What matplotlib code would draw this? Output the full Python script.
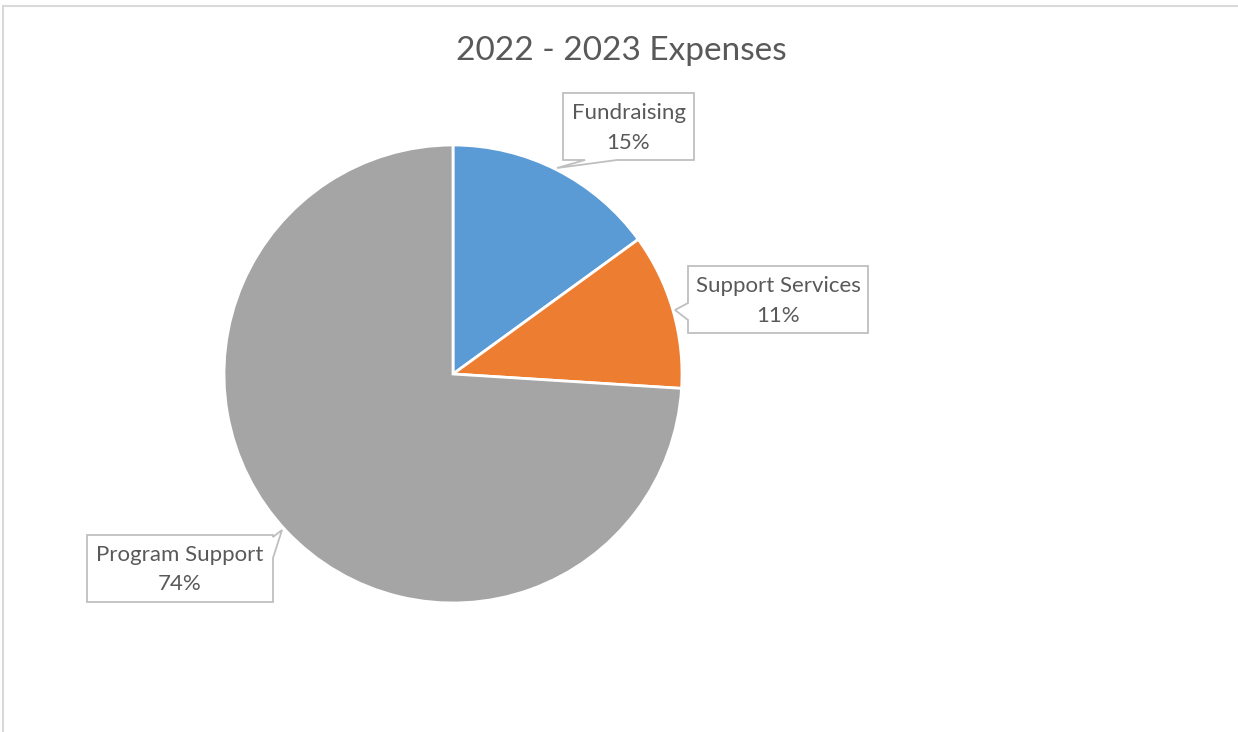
import matplotlib
matplotlib.use("Agg")
import matplotlib.pyplot as plt
from matplotlib.patches import Polygon
from matplotlib.lines import Line2D

# ---- data ----
categories = ["Fundraising", "Support Services", "Program Support"]
values = [15, 11, 74]
colors = ["#5B9BD5", "#ED7D31", "#A5A5A5"]
title = "2022 - 2023 Expenses"

W, H = 1238, 732
fig = plt.figure(figsize=(W / 100, H / 100), dpi=100)
ax = fig.add_axes([0, 0, 1, 1])
ax.set_xlim(0, W)
ax.set_ylim(0, H)
ax.set_aspect("equal")
ax.axis("off")

def Y(y):  # image y (top-down) -> data y
    return H - y

# chart border (top and left lines)
fig.add_artist(Line2D([3 / W, 1], [Y(5.5) / H] * 2, color="#D9D9D9", lw=1.5))
fig.add_artist(Line2D([3 / W] * 2, [0, Y(5.5) / H], color="#D9D9D9", lw=1.5))

cx, cy, r = 453, Y(374), 229
ax.pie(values, colors=colors, startangle=90, counterclock=False,
       center=(cx, cy), radius=r, frame=True,
       wedgeprops=dict(edgecolor="white", linewidth=2.0))
ax.set_xlim(0, W)
ax.set_ylim(0, H)
ax.axis("off")

ax.text(621, Y(51), title, ha="center", va="center", fontsize=24,
        color="#595959", family="Lato")

# callout shapes (image coords): pointer polygon points and text rows
callouts = [
    dict(pts=[(563, 93), (694, 93), (694, 160), (617, 160), (557, 168),
              (585, 160), (563, 160)], cx=628.5, y1=113, y2=143),
    dict(pts=[(688, 266), (868, 266), (868, 333), (688, 333), (688, 320),
              (675, 310), (688, 303)], cx=778, y1=286, y2=316),
    dict(pts=[(87, 535), (273, 535), (273, 537), (282, 530), (273, 558),
              (273, 602), (87, 602)], cx=180, y1=555, y2=584),
]
for cat, val, c in zip(categories, values, callouts):
    poly = Polygon([(x, Y(y)) for x, y in c["pts"]], closed=True,
                   facecolor="white", edgecolor="#BFBFBF", lw=1.3,
                   joinstyle="miter", zorder=5)
    ax.add_patch(poly)
    ax.text(c["cx"], Y(c["y1"]), cat, ha="center", va="center",
            fontsize=16, color="#595959", family="Lato", zorder=6)
    ax.text(c["cx"], Y(c["y2"]), f"{val}%", ha="center", va="center",
            fontsize=16, color="#595959", family="Lato", zorder=6)

fig.savefig("out.png", dpi=100, facecolor="white")
